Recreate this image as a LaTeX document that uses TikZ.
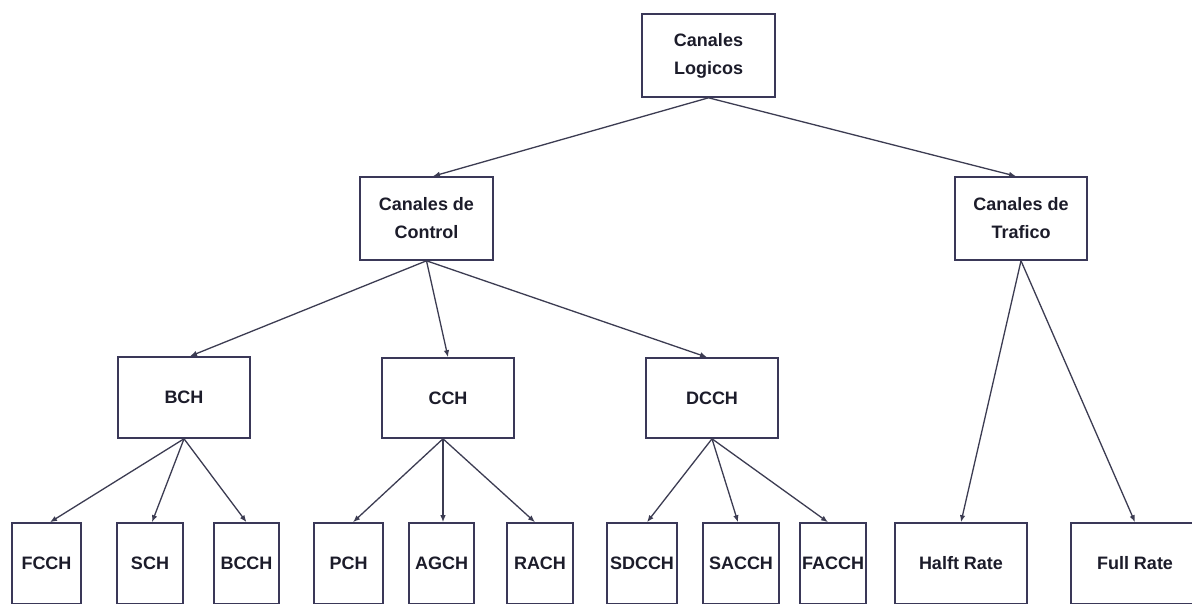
\documentclass[tikz,border=0pt]{standalone}
\usepackage{fontspec}
\setmainfont{Liberation Sans}
\usetikzlibrary{arrows.meta}
\definecolor{boxline}{HTML}{3A3858}
\definecolor{arrowline}{HTML}{3C3C52}
\definecolor{label}{HTML}{1C1C2A}
\begin{document}
\begin{tikzpicture}[x=1pt,y=-1pt,
  chan/.style={draw=boxline,line width=1.6pt,fill=white,inner sep=0pt,
    minimum width=132pt,minimum height=82pt,align=center,text=label,
    font=\fontsize{18}{28}\selectfont\bfseries},
  leaf/.style={chan,minimum height=81pt},
  link/.style={draw=arrowline,line width=1.3pt,
    -{Latex[length=7pt,width=5.5pt]}}]
\useasboundingbox (0,0) rectangle (1192,603);
\clip (0,0) rectangle (1192,603);
\fill[white] (0,0) rectangle (1192,603);

% root
\node[chan,minimum width=133pt,minimum height=83pt] (log) at (708.5,55.5) {Canales\\Logicos};

% second level
\node[chan,minimum width=133pt,minimum height=83pt] (ctrl) at (426.5,218.5) {Canales de\\Control};
\node[chan,minimum height=83pt] (traf) at (1021,218.5) {Canales de\\Trafico};

% control channel groups
\node[chan,minimum height=81pt] (bch) at (184,397.5) {BCH};
\node[chan,minimum height=80pt] (cch) at (448,398) {CCH};
\node[chan,minimum height=80pt] (dcch) at (712,398) {DCCH};

% leaves
\node[leaf,minimum width=69pt] (fcch) at (46.5,563.5) {FCCH};
\node[leaf,minimum width=66pt] (sch) at (150,563.5) {SCH};
\node[leaf,minimum width=65pt] (bcch) at (246.5,563.5) {BCCH};
\node[leaf,minimum width=69pt] (pch) at (348.5,563.5) {PCH};
\node[leaf,minimum width=65pt] (agch) at (441.5,563.5) {AGCH};
\node[leaf,minimum width=66pt] (rach) at (540,563.5) {RACH};
\node[leaf,minimum width=70pt] (sdcch) at (642,563.5) {SDCCH};
\node[leaf,minimum width=76pt] (sacch) at (741,563.5) {SACCH};
\node[leaf,minimum width=66pt] (facch) at (833,563.5) {FACCH};
\node[leaf,minimum width=132pt] (half) at (961,563.5) {Halft Rate};
\node[leaf,minimum width=128pt] (full) at (1135,563.5) {Full Rate};

% connectors
\draw[link] (log.south) -- ([xshift=6.5pt]ctrl.north);
\draw[link] (log.south) -- ([xshift=-5pt]traf.north);

\draw[link] (ctrl.south) -- ([xshift=6pt]bch.north);
\draw[link] (ctrl.south) -- (cch.north);
\draw[link] (ctrl.south) -- ([xshift=-5pt]dcch.north);

\draw[link] (traf.south) -- (half.north);
\draw[link] (traf.south) -- (full.north);

\draw[link] (bch.south) -- ([xshift=3.5pt]fcch.north);
\draw[link] (bch.south) -- ([xshift=2pt]sch.north);
\draw[link] (bch.south) -- (bcch.north);

\draw[link] ([xshift=-5pt]cch.south) -- ([xshift=4.5pt]pch.north);
\draw[link] ([xshift=-5pt]cch.south) -- ([xshift=1.5pt]agch.north);
\draw[link] ([xshift=-5pt]cch.south) -- ([xshift=-5pt]rach.north);

\draw[link] (dcch.south) -- ([xshift=5pt]sdcch.north);
\draw[link] (dcch.south) -- ([xshift=-3pt]sacch.north);
\draw[link] (dcch.south) -- ([xshift=-5pt]facch.north);
\end{tikzpicture}
\end{document}
